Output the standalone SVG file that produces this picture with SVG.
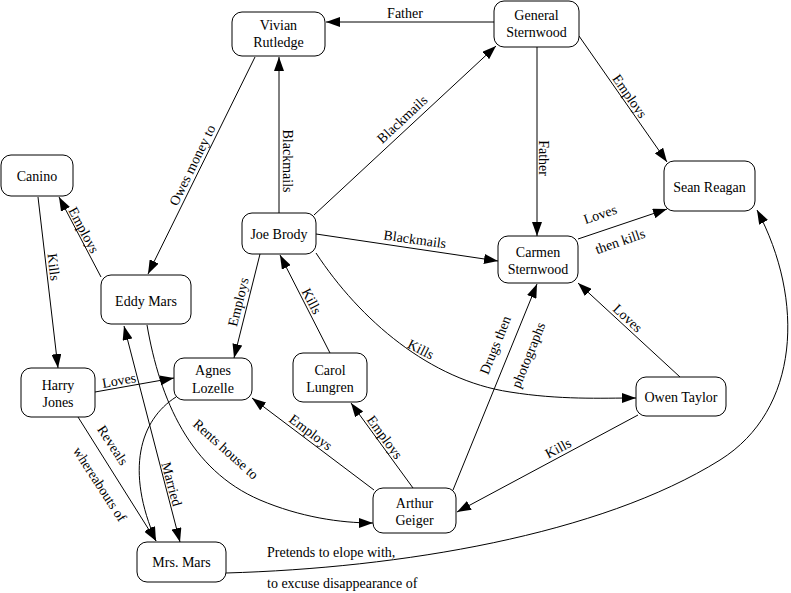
<svg xmlns="http://www.w3.org/2000/svg" width="791" height="593" viewBox="0 0 791 593">
<style>
.node rect{fill:#fff;stroke:#000;stroke-width:1}
text{font-family:"Liberation Serif","Times New Roman",serif;font-size:14px;fill:#000}
.node text{text-anchor:middle}
.lbl{text-anchor:middle}
.edges line,.edges path{stroke:#000;stroke-width:1;fill:none}
.a{marker-end:url(#arr)}
</style>
<defs>
<marker id="arr" markerUnits="userSpaceOnUse" markerWidth="14" markerHeight="10" refX="14" refY="5" orient="auto-start-reverse" viewBox="0 0 14 10">
<path d="M0,0 L14,5 L0,10 z" fill="#000"/>
</marker>
</defs>
<rect width="791" height="593" fill="#fff"/>
<g class="edges">
<line class="a" x1="494" y1="22" x2="326" y2="22"/>
<text class="lbl" x="405" y="18">Father</text>
<line class="a" x1="279" y1="213" x2="279" y2="57"/>
<text class="lbl" transform="translate(288,161) rotate(90)" y="5">Blackmails</text>
<line class="a" x1="255" y1="57" x2="148" y2="274"/>
<text class="lbl" transform="translate(192,165) rotate(-64)" y="5">Owes money to</text>
<line class="a" x1="314" y1="215" x2="496" y2="46"/>
<text class="lbl" transform="translate(402,119) rotate(-43)" y="5">Blackmails</text>
<line class="a" x1="537" y1="47" x2="537" y2="236"/>
<text class="lbl" transform="translate(544,158) rotate(90)" y="5">Father</text>
<line class="a" x1="579" y1="36" x2="667" y2="162"/>
<text class="lbl" transform="translate(630,96) rotate(55)" y="5">Employs</text>
<line class="a" x1="578" y1="239" x2="667" y2="209"/>
<text class="lbl" transform="translate(600,214) rotate(-19)" y="5">Loves</text>
<text class="lbl" transform="translate(620,241) rotate(-19)" y="5">then kills</text>
<line class="a" x1="316" y1="234" x2="498" y2="261"/>
<text class="lbl" transform="translate(415,239) rotate(8)" y="5">Blackmails</text>
<path class="a" d="M316,253 C360,320 430,380 510,392 C560,400 600,398 636,398"/>
<text class="lbl" transform="translate(421,349) rotate(27)" y="5">Kills</text>
<line class="a" x1="260" y1="254" x2="234" y2="358"/>
<text class="lbl" transform="translate(238,302) rotate(-76)" y="5">Employs</text>
<line class="a" x1="330" y1="353" x2="280" y2="255"/>
<text class="lbl" transform="translate(312,301) rotate(63)" y="5">Kills</text>
<line class="a" x1="101" y1="277" x2="59" y2="197"/>
<text class="lbl" transform="translate(84,230) rotate(62)" y="5">Employs</text>
<line class="a" x1="38" y1="197" x2="58" y2="368"/>
<text class="lbl" transform="translate(54,267) rotate(83)" y="5">Kills</text>
<line class="a" x1="95" y1="392" x2="174" y2="378"/>
<text class="lbl" transform="translate(119,380) rotate(-10)" y="5">Loves</text>
<line class="a" x1="124" y1="326" x2="180" y2="542" marker-start="url(#arr)"/>
<text class="lbl" transform="translate(172,484) rotate(75)" y="5">Married</text>
<path class="a" d="M147,325 C160,400 190,470 260,500 C300,517 340,523 373,523"/>
<text class="lbl" transform="translate(226,449) rotate(42)" y="5">Rents house to</text>
<line class="a" x1="374" y1="490" x2="252" y2="398"/>
<text class="lbl" transform="translate(311,432) rotate(37)" y="5">Employs</text>
<line class="a" x1="413" y1="488" x2="351" y2="403"/>
<text class="lbl" transform="translate(385,437) rotate(54)" y="5">Employs</text>
<line class="a" x1="453" y1="490" x2="537" y2="284"/>
<text class="lbl" transform="translate(495,345) rotate(-68)" y="5">Drugs then</text>
<text class="lbl" transform="translate(528,355) rotate(-68)" y="5">photographs</text>
<line class="a" x1="680" y1="377" x2="578" y2="283"/>
<text class="lbl" transform="translate(628,318) rotate(43)" y="5">Loves</text>
<line class="a" x1="638" y1="415" x2="457" y2="512"/>
<text class="lbl" transform="translate(558,448) rotate(-28)" y="5">Kills</text>
<line class="a" x1="78" y1="417" x2="156" y2="541"/>
<text class="lbl" transform="translate(113,445) rotate(57)" y="5">Reveals</text>
<text class="lbl" transform="translate(100,484) rotate(57)" y="5">whereabouts of</text>
<path class="a" d="M176,397 C140,420 125,470 156,541"/>
<path class="a" d="M226,573 C400,568 600,535 720,460 C800,410 805,300 757,210"/>
<text x="267" y="557">Pretends to elope with,</text>
<text x="267" y="588">to excuse disappearance of</text>
</g>
<g id="vivian" class="node"><rect x="232" y="12" width="93" height="44" rx="10"/><text x="278.5" y="30">Vivian</text><text x="278.5" y="47">Rutledge</text></g>
<g id="general" class="node"><rect x="494" y="1" width="85" height="46" rx="10"/><text x="536.5" y="20">General</text><text x="536.5" y="37">Sternwood</text></g>
<g id="sean" class="node"><rect x="664" y="161" width="91" height="50" rx="10"/><text x="709.5" y="192">Sean Reagan</text></g>
<g id="canino" class="node"><rect x="1" y="155" width="72" height="41" rx="10"/><text x="37" y="181">Canino</text></g>
<g id="joe" class="node"><rect x="242" y="213" width="74" height="41" rx="10"/><text x="279" y="239">Joe Brody</text></g>
<g id="carmen" class="node"><rect x="498" y="236" width="80" height="47" rx="10"/><text x="538" y="257">Carmen</text><text x="538" y="274">Sternwood</text></g>
<g id="eddy" class="node"><rect x="101" y="275" width="90" height="49" rx="10"/><text x="146" y="306">Eddy Mars</text></g>
<g id="agnes" class="node"><rect x="174" y="358" width="78" height="42" rx="10"/><text x="213" y="375">Agnes</text><text x="213" y="393">Lozelle</text></g>
<g id="harry" class="node"><rect x="21" y="368" width="74" height="49" rx="10"/><text x="58" y="390">Harry</text><text x="58" y="407">Jones</text></g>
<g id="carol" class="node"><rect x="293" y="353" width="74" height="49" rx="10"/><text x="330" y="375">Carol</text><text x="330" y="392">Lungren</text></g>
<g id="owen" class="node"><rect x="636" y="377" width="90" height="39" rx="10"/><text x="681" y="402">Owen Taylor</text></g>
<g id="arthur" class="node"><rect x="373" y="488" width="83" height="45" rx="10"/><text x="414.5" y="508">Arthur</text><text x="414.5" y="525">Geiger</text></g>
<g id="mrsmars" class="node"><rect x="137" y="542" width="89" height="40" rx="10"/><text x="181.5" y="567">Mrs. Mars</text></g>
</svg>
